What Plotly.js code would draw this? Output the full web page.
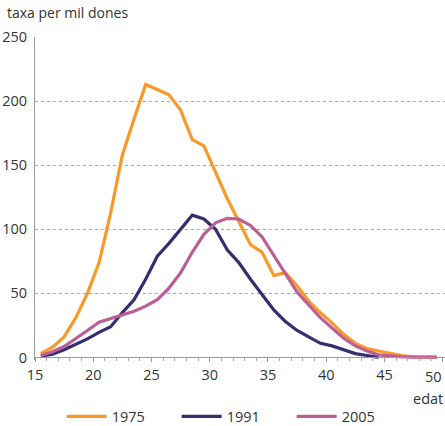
<!DOCTYPE html>
<html>
<head>
<meta charset="utf-8">
<script src="https://cdn.plot.ly/plotly-3.0.1.min.js"></script>
<style>html,body{margin:0;padding:0;background:#fff;}#chart{width:445px;height:426px;}</style>
</head>
<body>
<div id="chart"></div>
<script>
var ages = [15.5,16.5,17.5,18.5,19.5,20.5,21.5,22.5,23.5,24.5,25.5,26.5,27.5,28.5,29.5,30.5,31.5,32.5,33.5,34.5,35.5,36.5,37.5,38.5,39.5,40.5,41.5,42.5,43.5,44.5,45.5,46.5,47.5,48.5,49.5];
var rate1975 = [3,8,16,31,50,74,113,158,186,213,209,205,193,170,165,145,124,106,88,82,64,66,56,44,35,27,18,11,7,5,3,1.5,0.5,0,0];
var ages1991 = [15.5,16.5,17.5,18.5,19.5,20.5,21.5,22.5,23.5,24.5,25.5,26.5,27.5,28.5,29.5,30.5,31.5,32.5,33.5,34.5,35.5,36.5,37.5,38.5,39.5,40.5,41.5,42.5,43.5,44.5];
var rate1991 = [1,2.5,6,10,14.5,19.5,24,35,45,61,79,89,100,111,108,100,84,74,61,49,37,28,21,16,11,9,6,3,1.5,0];
var rate2005 = [1.5,4.5,8.5,14.5,21,27.5,30.5,33,36,40,45,54,66,82,96,105,108.5,108,103,94,80,65,51,41,31,23,15,9,5,2,1,0.5,0.3,0.2,0.2];
var seriesNames = ['1975','1991','2005'];
var xTicks = [15,20,25,30,35,40,45,50];
var xTickText = ['15','20','25','30','35','40','45',''];
var lastTickLabel = '50';
var yTicks = [0,50,100,150,200,250];

var font = 'Open Sans, Noto Sans, sans-serif';
var txt = '#333';
var traces = [
  {x: ages, y: rate1975, name: seriesNames[0], mode: 'lines', line: {color: '#f8992a', width: 3.2}},
  {x: ages1991, y: rate1991, name: seriesNames[1], mode: 'lines', line: {color: '#352f70', width: 3.2}},
  {x: ages, y: rate2005, name: seriesNames[2], mode: 'lines', line: {color: '#bb5f95', width: 3.2}}
];
var layout = {
  width: 445, height: 426,
  margin: {l: 35, r: 0, t: 37, b: 66, autoexpand: false},
  paper_bgcolor: '#fff', plot_bgcolor: '#fff',
  font: {family: font, size: 14, color: txt},
  title: {text: 'taxa per mil dones', x: 7/445, xanchor: 'left', xref: 'container', y: 1 - 13/426, yanchor: 'middle', yref: 'container', font: {family: font, size: 14, color: txt}},
  showlegend: true,
  legend: {orientation: 'h', x: 0.065, xanchor: 'left', y: -0.175, yanchor: 'middle', entrywidth: 60, entrywidthmode: 'pixels', itemwidth: 40, font: {family: font, size: 14.5, color: txt}, bgcolor: 'rgba(0,0,0,0)'},
  xaxis: {
    range: [15, 50.2], tickvals: xTicks, ticktext: xTickText,
    showgrid: false, zeroline: false, showline: true, linecolor: '#9a9a9a', linewidth: 1,
    ticks: 'outside', ticklen: 4, tickcolor: '#9a9a9a',
    minor: {dtick: 1, ticks: 'outside', ticklen: 3, tickcolor: '#aaa', showgrid: false},
    anchor: 'free', position: 2/252,
    tickfont: {family: font, size: 14.5, color: txt}, fixedrange: true
  },
  yaxis: {
    range: [-2, 250], tickvals: yTicks, ticktext: yTicks.map(String),
    showgrid: true, gridcolor: '#a8a8a8', griddash: 'dot', gridwidth: 1,
    zeroline: false, showline: true, linecolor: '#9a9a9a', linewidth: 1,
    ticks: '', ticklabelstandoff: 4,
    tickfont: {family: font, size: 14.5, color: txt}, fixedrange: true
  },
  annotations: [
    {text: lastTickLabel, xref: 'x', yref: 'paper', x: xTicks[xTicks.length - 1], xanchor: 'right', xshift: 1, y: -0.05, yanchor: 'middle', showarrow: false, font: {family: font, size: 14.5, color: txt}},
    {text: 'edat', xref: 'paper', yref: 'paper', x: 1, xanchor: 'right', y: -0.118, yanchor: 'middle', showarrow: false, font: {family: font, size: 14.5, color: txt}}
  ]
};
Plotly.newPlot('chart', traces, layout, {displayModeBar: false, staticPlot: true});
</script>
</body>
</html>
